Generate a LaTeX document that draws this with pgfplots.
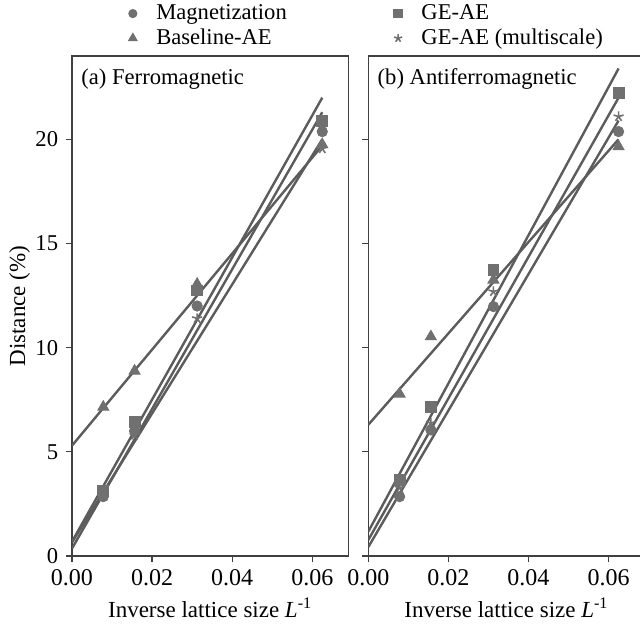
\documentclass[border=0pt]{standalone}
\usepackage{fontspec}
\setmainfont{Liberation Serif}
\usepackage{pgfplots}
\pgfplotsset{compat=1.18}
\definecolor{mk}{RGB}{112,112,112}
\definecolor{ln}{RGB}{92,92,92}

\pgfplotsset{
  panel/.style={
    scale only axis, width=138.15pt, height=250pt,
    xmin=0, xmax=0.069, ymin=0, ymax=24,
    xtick={0,0.02,0.04,0.06}, ytick={0,5,10,15,20},
    scaled x ticks=false,
    tick align=outside, major tick length=3pt,
    xtick pos=bottom, ytick pos=left,
    axis line style={black!75, line width=0.6pt},
    tick style={black!75, line width=0.6pt},
    xticklabel style={/pgf/number format/fixed, /pgf/number format/fixed zerofill,
      /pgf/number format/precision=2, /pgf/number format/assume math mode=true,
      font=\fontsize{12}{14}\selectfont},
    yticklabel style={/pgf/number format/assume math mode=true,
      font=\fontsize{11.3}{13.6}\selectfont},
    label style={font=\fontsize{11.5}{13.8}\selectfont},
    xlabel={Inverse lattice size \textit{L}\textsuperscript{-1}},
    xlabel style={yshift=2pt},
  },
  fit/.style={ln, line width=1.2pt, forget plot},
  mcirc/.style={only marks, mark=*, mark size=2.6pt, mk, mark options={draw=mk, fill=mk}},
  msq/.style={only marks, mark=square*, mark size=2.7pt, mk, mark options={draw=mk, fill=mk}},
  mtri/.style={only marks, mark=triangle*, mark size=3.2pt, mk, mark options={draw=mk, fill=mk}},
  mstar/.style={only marks, mark=star, mark size=2.6pt, mk, mark options={draw=mk, line width=0.8pt}},
}

\begin{document}
\fontsize{11.3}{13.6}\selectfont
\begin{tikzpicture}
\begin{axis}[panel, at={(0,0)}, anchor=south west,
  ylabel={Distance (\%)}, ylabel style={yshift=-5pt},
  legend columns=2,
  legend style={draw=none, fill=none, at={(0.181,1.12)}, anchor=north west,
    font=\fontsize{11.3}{12.5}\selectfont, row sep=-1pt,
    /tikz/every odd column/.append style={column sep=7.5pt},
    /tikz/every even column/.append style={column sep=51.5pt}},
  legend image post style={/tikz/every mark/.append style={scale=0.8}},
  legend cell align=left]
% fit lines
\addplot[fit] coordinates {(0,0.69)(0.0625,22.0)};
\addplot[fit] coordinates {(0,0.36)(0.0625,21.3)};
\addplot[fit] coordinates {(0,0.65)(0.0625,20.0)};
\addplot[fit] coordinates {(0,5.3)(0.0625,19.7)};
% data
\addplot[mcirc] coordinates {(0.0078125,2.85)(0.015625,6.0)(0.03125,12.0)(0.0625,20.37)};
\addlegendentry{Magnetization}
\addplot[msq] coordinates {(0.0078125,3.15)(0.015625,6.45)(0.03125,12.75)(0.0625,20.9)};
\addlegendentry{GE-AE}
\addplot[mtri] coordinates {(0.0078125,7.15)(0.015625,8.88)(0.03125,13.05)(0.0625,19.75)};
\addlegendentry{Baseline-AE}
\addplot[mstar] coordinates {(0.0078125,2.95)(0.015625,5.8)(0.03125,11.4)(0.0625,19.55)};
\addlegendentry{GE-AE (multiscale)}
\node[anchor=north west, inner sep=0pt] at (rel axis cs:0,1) [xshift=4.5pt, yshift=-6pt] {(a) Ferromagnetic};
\end{axis}

\begin{axis}[panel, at={(148.15pt,0)}, anchor=south west, yticklabels={}]
\addplot[fit] coordinates {(0,1.17)(0.0625,23.4)};
\addplot[fit] coordinates {(0,0.77)(0.0625,22.0)};
\addplot[fit] coordinates {(0,0.43)(0.0625,20.9)};
\addplot[fit] coordinates {(0,6.3)(0.0625,20.0)};
\addplot[mcirc] coordinates {(0.0078125,2.85)(0.015625,6.05)(0.03125,11.97)(0.0625,20.37)};
\addplot[msq] coordinates {(0.0078125,3.65)(0.015625,7.17)(0.03125,13.73)(0.0625,22.24)};
\addplot[mtri] coordinates {(0.0078125,7.78)(0.015625,10.53)(0.03125,13.25)(0.0625,19.65)};
\addplot[mstar] coordinates {(0.0078125,3.27)(0.015625,6.38)(0.03125,12.69)(0.0625,21.09)};
\node[anchor=north west, inner sep=0pt] at (rel axis cs:0,1) [xshift=4.5pt, yshift=-6pt] {(b) Antiferromagnetic};
\end{axis}
\pgfresetboundingbox
\useasboundingbox (-36pt,-34.5pt) rectangle (284pt,278pt);
\end{tikzpicture}
\end{document}
